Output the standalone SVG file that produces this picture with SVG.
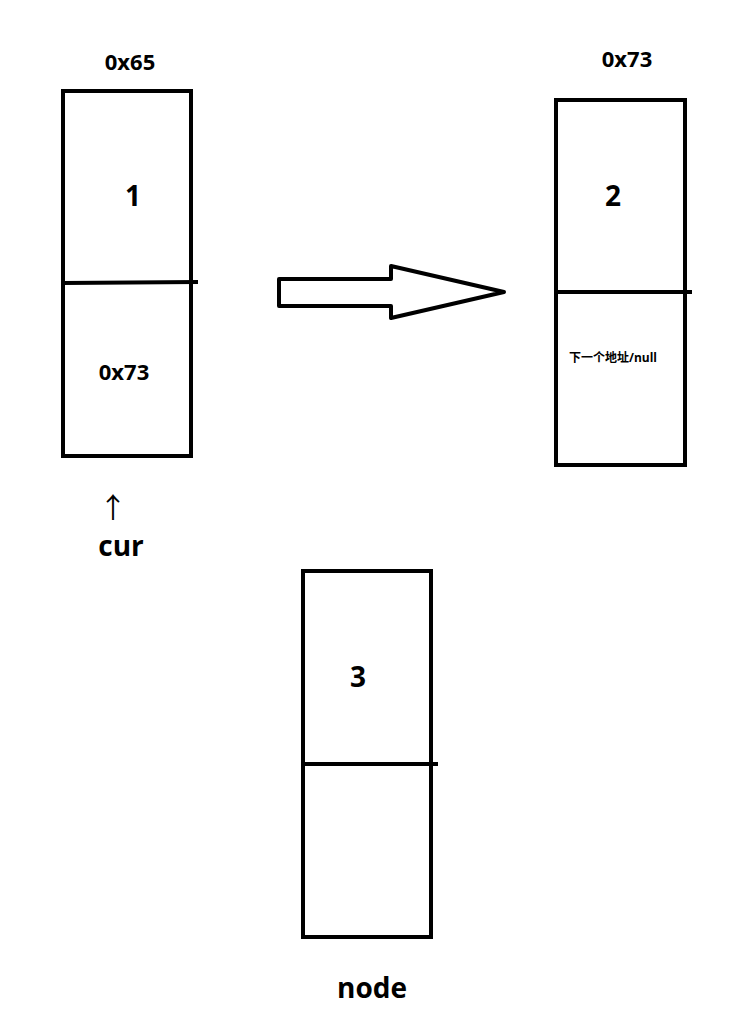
<svg xmlns="http://www.w3.org/2000/svg" width="739" height="1021" viewBox="0 0 739 1021">
<style>
.b{fill:none;stroke:#000;stroke-width:4}
.t{font-family:"Open Sans","Noto Sans CJK SC",sans-serif;font-weight:bold;fill:#000}
</style>
<rect width="739" height="1021" fill="#fff"/>
<g id="node1">
<rect class="b" x="63" y="91" width="128" height="365"/>
<path class="b" d="M63 283 L198 282"/>
<text class="t" x="130" y="70" font-size="22" text-anchor="middle">0x65</text>
<text class="t" x="133" y="206" font-size="28" text-anchor="middle">1</text>
<text class="t" x="124" y="380" font-size="22" text-anchor="middle">0x73</text>
</g>
<g id="node2">
<rect class="b" x="556" y="100" width="129" height="365"/>
<path class="b" d="M556 292 L692 292"/>
<text class="t" x="627" y="67" font-size="22" text-anchor="middle">0x73</text>
<text class="t" x="613" y="206" font-size="28" text-anchor="middle">2</text>
<text class="t" x="613" y="362" font-size="12" text-anchor="middle">下一个地址/null</text>
</g>
<g id="node3">
<rect class="b" x="303" y="571" width="128" height="366"/>
<path class="b" d="M303 764 L438 764"/>
<text class="t" x="358" y="687" font-size="28" text-anchor="middle">3</text>
<text class="t" x="372" y="998" font-size="28" text-anchor="middle">node</text>
</g>
<g id="cur">
<text x="113" y="518" font-size="28" font-family="'Noto Sans CJK SC',sans-serif" text-anchor="middle">↑</text>
<text class="t" x="121" y="556" font-size="28" text-anchor="middle">cur</text>
</g>
<g id="connectors">
<polygon class="b" stroke-linejoin="round" points="279,279 391,279 391,266 504,292 391,318 391,306 279,306"/>
</g>
</svg>
